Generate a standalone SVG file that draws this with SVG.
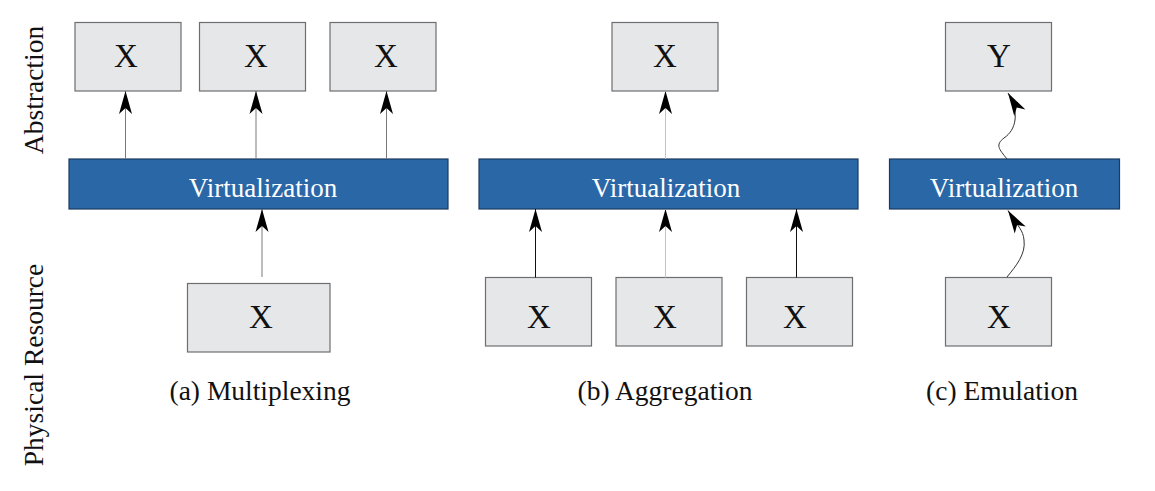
<svg xmlns="http://www.w3.org/2000/svg" width="1155" height="491" viewBox="0 0 1155 491">
  <style>
    .box { fill: #e6e7e8; stroke: #6d6e71; stroke-width: 1.2; }
    .bar { fill: #2a67a6; stroke: #1c3b60; stroke-width: 1.2; }
    .sym { font-family: "Liberation Serif", "Times New Roman", serif; font-size: 33px; fill: #111; text-anchor: middle; }
    .barText { font-family: "Liberation Serif", "Times New Roman", serif; font-size: 27px; fill: #ffffff; text-anchor: middle; }
    .caption { font-family: "Liberation Serif", "Times New Roman", serif; font-size: 27.5px; fill: #111; text-anchor: middle; }
    .edge { fill: none; stroke-width: 1; marker-end: url(#stealth); }
    .grey { stroke: #7a7a7a; }
    .light { stroke: #c4c4c4; }
    .dark { stroke: #111; }
    .wave { stroke: #333; stroke-width: 1; }
  </style>
  <defs>
    <marker id="stealth" markerUnits="userSpaceOnUse" markerWidth="26" markerHeight="16" viewBox="-24 -8 26 16" refX="0" refY="0" orient="auto">
      <path d="M0,0 L-23,-6.5 L-17,0 L-23,6.5 Z" fill="#000"/>
    </marker>
  </defs>

  <!-- side labels -->
  <text class="caption" transform="translate(43,90) rotate(-90)">Abstraction</text>
  <text class="caption" transform="translate(43,365) rotate(-90)">Physical Resource</text>

  <!-- (a) multiplexing -->
  <g id="a-top-1"><rect class="box" x="75" y="22.5" width="106" height="68.5"/><text class="sym" x="126" y="67">X</text></g>
  <g id="a-top-2"><rect class="box" x="199.5" y="22.5" width="106" height="68.5"/><text class="sym" x="256" y="67">X</text></g>
  <g id="a-top-3"><rect class="box" x="330" y="22.5" width="106" height="68.5"/><text class="sym" x="386" y="67">X</text></g>
  <g id="a-virt"><rect class="bar" x="69" y="159" width="379" height="50"/><text class="barText" x="263" y="197">Virtualization</text></g>
  <g id="a-phys"><rect class="box" x="187.5" y="283.5" width="142.5" height="68.5"/><text class="sym" x="261" y="328">X</text></g>
  <text id="a-caption" class="caption" x="260" y="400">(a) Multiplexing</text>

  <!-- (b) aggregation -->
  <g id="b-top"><rect class="box" x="612" y="22.5" width="106" height="68.5"/><text class="sym" x="665" y="67">X</text></g>
  <g id="b-virt"><rect class="bar" x="479" y="159" width="379" height="50"/><text class="barText" x="666" y="197">Virtualization</text></g>
  <g id="b-phys-1"><rect class="box" x="485.5" y="277.5" width="106" height="68.5"/><text class="sym" x="539" y="328">X</text></g>
  <g id="b-phys-2"><rect class="box" x="616" y="277.5" width="106" height="68.5"/><text class="sym" x="665" y="328">X</text></g>
  <g id="b-phys-3"><rect class="box" x="746.5" y="277.5" width="106" height="68.5"/><text class="sym" x="795" y="328">X</text></g>
  <text id="b-caption" class="caption" x="665" y="400">(b) Aggregation</text>

  <!-- (c) emulation -->
  <g id="c-top"><rect class="box" x="945.5" y="22.5" width="106" height="68.5"/><text class="sym" x="999" y="67">Y</text></g>
  <g id="c-virt"><rect class="bar" x="889.5" y="159" width="230" height="50"/><text class="barText" x="1004" y="197">Virtualization</text></g>
  <g id="c-phys"><rect class="box" x="945.5" y="277.5" width="106" height="68.5"/><text class="sym" x="999" y="328">X</text></g>
  <text id="c-caption" class="caption" x="1002" y="400">(c) Emulation</text>

  <!-- connectors -->
  <g id="connectors">
    <line class="edge grey" x1="125.5" y1="159" x2="125.5" y2="91"/>
    <line class="edge grey" x1="256" y1="159" x2="256" y2="91"/>
    <line class="edge grey" x1="386.5" y1="159" x2="386.5" y2="91"/>
    <line class="edge grey" x1="262" y1="277" x2="262" y2="209"/>

    <line class="edge light" x1="665.5" y1="159" x2="665.5" y2="91"/>
    <line class="edge dark" x1="535.5" y1="277.5" x2="535.5" y2="209"/>
    <line class="edge light" x1="665.5" y1="277.5" x2="665.5" y2="209"/>
    <line class="edge dark" x1="796.5" y1="277.5" x2="796.5" y2="209"/>

    <path class="edge wave" d="M1007,159 C999,149 995,145 1004,138 C1016,130 1020,113 1008,93"/>
    <path class="edge wave" d="M1007,277 C1016,266 1026,254 1024,240 C1023,230 1019,228 1008,210.5"/>
  </g>
</svg>
